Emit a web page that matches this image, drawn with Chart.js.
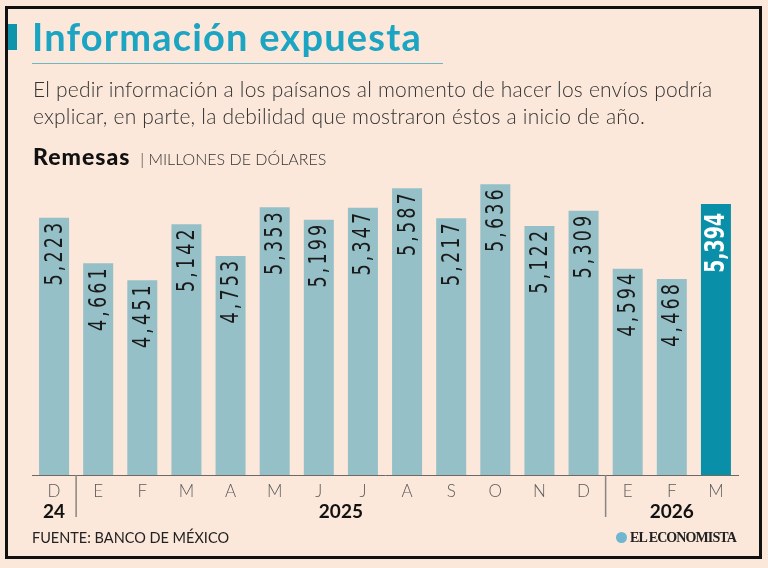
<!DOCTYPE html>
<html>
<head>
<meta charset="utf-8">
<script src="https://cdn.jsdelivr.net/npm/chart.js@4"></script>
<style>
  html, body { margin: 0; padding: 0; background: #fbe8da; }
  #wrap { position: relative; width: 768px; height: 568px; overflow: hidden; font-family: "Lato", "Open Sans", sans-serif; }
  #frame { position: absolute; left: 5px; top: 6px; width: 751px; height: 547px; border: 3px solid #111; }
  #chart { position: absolute; left: 0; top: 0; }
  .abs { position: absolute; white-space: nowrap; }
  #mark { left: 8px; top: 24px; width: 9px; height: 26px; background: #0f94ac; }
  #title { left: 32px; top: 13px; font-size: 38px; font-weight: 700; color: #1ca4c3; letter-spacing: 1.2px; }
  #rule { left: 32px; top: 63px; width: 411px; height: 1px; background: #6db8c7; }
  #sub { left: 33px; top: 75px; font-size: 21px; font-weight: 300; color: #333; line-height: 27px; letter-spacing: 0.2px; }
  #unit { left: 33px; top: 142px; font-size: 23px; color: #111; }
  #unit b { font-weight: 900; letter-spacing: 1px; }
  #unit span { font-size: 16px; font-weight: 300; color: #333; margin-left: 4px; }
  #source { left: 32px; top: 529px; font-size: 14.5px; color: #222; }
  #logo { left: 616px; top: 530px; font-family: "Liberation Serif", serif; font-weight: 700; font-size: 14px; color: #222; letter-spacing: -0.9px; }
  #logo i { display: inline-block; width: 11px; height: 11px; border-radius: 50%; background: #6fb6d0; margin-right: 3px; vertical-align: -1px; }
</style>
</head>
<body>
<div id="wrap">
  <canvas id="chart" width="768" height="568"></canvas>
  <div id="frame"></div>
  <div class="abs" id="mark"></div>
  <div class="abs" id="title">Información expuesta</div>
  <div class="abs" id="rule"></div>
  <div class="abs" id="sub">El pedir información a los paísanos al momento de hacer los envíos podría<br>explicar, en parte, la debilidad que mostraron éstos a inicio de año.</div>
  <div class="abs" id="unit"><b>Remesas</b> <span>| MILLONES DE DÓLARES</span></div>
  <div class="abs" id="source">FUENTE: BANCO DE MÉXICO</div>
  <div class="abs" id="logo"><i></i>EL ECONOMISTA</div>
</div>
<script>
const months = ['D', 'E', 'F', 'M', 'A', 'M', 'J', 'J', 'A', 'S', 'O', 'N', 'D', 'E', 'F', 'M'];
const remesas = [5223, 4661, 4451, 5142, 4753, 5353, 5199, 5347, 5587, 5217, 5636, 5122, 5309, 4594, 4468, 5394];
const yearLabels = ['24', '2025', '2026'];
const yearStarts = [0, 1, 13];

const barColors = remesas.map((v, i) => i === remesas.length - 1 ? '#0a8fa8' : '#96c0c8');

// year names under the month ticks, with a divider between years
const yearsPlugin = {
  id: 'years',
  afterDraw(chart) {
    const ctx = chart.ctx;
    const x = chart.scales.x;
    const bottom = chart.chartArea.bottom;
    ctx.save();
    ctx.font = 'bold 19px Lato, "Open Sans", sans-serif';
    ctx.fillStyle = '#111';
    ctx.textAlign = 'center';
    ctx.textBaseline = 'middle';
    yearLabels.forEach((lab, k) => {
      const from = yearStarts[k];
      const to = k + 1 < yearStarts.length ? yearStarts[k + 1] - 1 : months.length - 1;
      const cx = (x.getPixelForValue(from) + x.getPixelForValue(to)) / 2;
      ctx.fillText(lab, cx, 512);
      if (k > 0) {
        const sx = (x.getPixelForValue(from - 1) + x.getPixelForValue(from)) / 2;
        ctx.strokeStyle = '#8a8580';
        ctx.lineWidth = 1.5;
        ctx.beginPath();
        ctx.moveTo(sx, bottom);
        ctx.lineTo(sx, bottom + 42);
        ctx.stroke();
      }
    });
    ctx.restore();
  }
};

// values written upright inside the top of each bar (condensed look)
const valuePlugin = {
  id: 'values',
  afterDatasetsDraw(chart) {
    const ctx = chart.ctx;
    const meta = chart.getDatasetMeta(0);
    meta.data.forEach((bar, i) => {
      const last = i === remesas.length - 1;
      ctx.save();
      ctx.translate(bar.x, bar.y + (last ? 9 : 5));
      ctx.rotate(-Math.PI / 2);
      ctx.scale(last ? 0.78 : 0.78, 1);
      ctx.textAlign = 'right';
      ctx.textBaseline = 'middle';
      ctx.font = (last ? 'bold 27px' : '25px') + ' "DejaVu Sans Condensed", sans-serif';
      ctx.letterSpacing = last ? '0px' : '4px';
      ctx.fillStyle = last ? '#ffffff' : '#1a1a1a';
      ctx.fillText(remesas[i].toLocaleString('en-US'), last ? 0 : 4, 1);
      ctx.restore();
    });
  }
};

new Chart(document.getElementById('chart'), {
  type: 'bar',
  data: {
    labels: months,
    datasets: [{
      data: remesas,
      backgroundColor: barColors,
      barPercentage: 0.68,
      categoryPercentage: 1
    }]
  },
  options: {
    responsive: false,
    animation: false,
    layout: { padding: { left: 32, right: 30, top: 171, bottom: 0 } },
    plugins: { legend: { display: false }, tooltip: { enabled: false } },
    scales: {
      x: {
        grid: { display: false },
        border: { display: true, color: '#6d6a66', width: 1 },
        ticks: { color: '#5a5a5a', font: { family: 'Lato, "Open Sans", sans-serif', size: 17, weight: 300 }, padding: -2 },
        afterFit(s) { s.height = 93; }
      },
      y: {
        display: false,
        min: 2050,
        max: 5800,
        afterFit(s) { s.width = 0; }
      }
    }
  },
  plugins: [yearsPlugin, valuePlugin]
});
</script>
</body>
</html>
